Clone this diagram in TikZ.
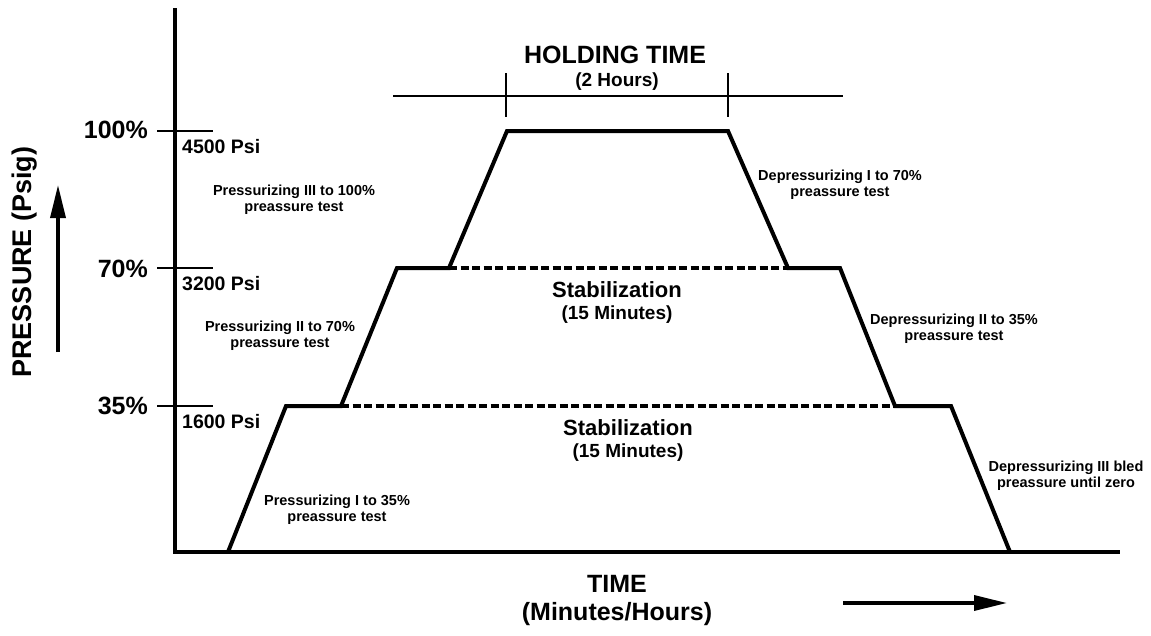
\documentclass[tikz,border=0pt]{standalone}
\usepackage{fontspec}
\setmainfont{Liberation Sans}
\usetikzlibrary{arrows.meta, positioning}

\begin{document}
\begin{tikzpicture}[x=1pt, y=-1pt,
        axis/.style={line width=4pt, black},
        level/.style={line width=4pt, black, line join=miter},
        hold/.style={line width=4pt, dash pattern=on 8pt off 3.5pt},
        tick/.style={line width=2.2pt},
        arrow/.style={-{Triangle[length=33pt, width=15pt]}, line width=3.5pt},
        pct/.style={font=\fontsize{25}{28}\selectfont\bfseries, inner sep=0pt, anchor=east},
        psi/.style={font=\fontsize{19.5}{21}\selectfont\bfseries, inner sep=0pt, anchor=west},
        note/.style={font=\fontsize{14.5}{16}\selectfont\bfseries, align=center, inner sep=0pt},
        title/.style={font=\fontsize{25}{28}\selectfont\bfseries, inner sep=0pt},
        sub/.style={font=\fontsize{19}{22}\selectfont\bfseries, inner sep=0pt},
        stab/.style={font=\fontsize{22}{24}\selectfont\bfseries, inner sep=0pt}
    ]
    \useasboundingbox (0,0) rectangle (1151,635);

    % axes
    \coordinate (o) at (175,552);
    \coordinate (ytop) at (175,8);
    \coordinate (xend) at (1120,552);
    \draw [axis] (ytop) -- (o) -- (xend);

    % pressure levels on the y axis
    \coordinate (t100a) at (157,131);  \coordinate (t100b) at (213,131);
    \coordinate (t70a) at (157,268);   \coordinate (t70b) at (213,268);
    \coordinate (t35a) at (157,406);   \coordinate (t35b) at (213,406);
    \draw [tick] (t100a) -- (t100b);
    \draw [tick] (t70a) -- (t70b);
    \draw [tick] (t35a) -- (t35b);
    \node (l100) [pct] at (148,130) {100\%};
    \node (l70) [pct] at (148,269) {70\%};
    \node (l35) [pct] at (148,406) {35\%};
    \node (p4500) [psi] at (182,147) {4500 Psi};
    \node (p3200) [psi] at (182,284) {3200 Psi};
    \node (p1600) [psi] at (182,422) {1600 Psi};

    % test profile
    \coordinate (p0) at (228,552);
    \coordinate (p1) at (286,406);
    \coordinate (p2) at (341,406);
    \coordinate (p3) at (397,268);
    \coordinate (p4) at (449,268);
    \coordinate (p5) at (507,131);
    \coordinate (p6) at (728,131);
    \coordinate (p7) at (788,268);
    \coordinate (p8) at (840,268);
    \coordinate (p9) at (895,406);
    \coordinate (p10) at (951,406);
    \coordinate (p11) at (1010,552);
    \draw [level] (p0) -- (p1) -- (p2) -- (p3) -- (p4) -- (p5) -- (p6) -- (p7) -- (p8) -- (p9) -- (p10) -- (p11);
    \draw [hold] (p4) -- (p7);
    \draw [hold] (p2) -- (p9);

    % holding time bracket
    \coordinate (h0) at (393,96);
    \coordinate (h1) at (843,96);
    \coordinate (hl1) at (506,73);  \coordinate (hl2) at (506,117);
    \coordinate (hr1) at (728,73);  \coordinate (hr2) at (728,117);
    \draw [line width=2.8pt] (h0) -- (h1);
    \draw [tick] (hl1) -- (hl2);
    \draw [tick] (hr1) -- (hr2);
    \node (holdt) [title] at (615,55) {HOLDING TIME};
    \node (holds) [sub] at (617,82) {(2 Hours)};

    % stabilization labels
    \node (stab70) [stab] at (617,290) {Stabilization};
    \node (stab70t) [sub, below=7pt of stab70] {(15 Minutes)};
    \node (stab35) [stab] at (628,428) {Stabilization};
    \node (stab35t) [sub, below=7pt of stab35] {(15 Minutes)};

    % step notes
    \node (up3) [note] at (294,200) {Pressurizing III to 100\%\\preassure test};
    \node (up2) [note] at (280,336) {Pressurizing II to 70\%\\preassure test};
    \node (up1) [note] at (337,510) {Pressurizing I to 35\%\\preassure test};
    \node (dn1) [note] at (840,185) {Depressurizing I to 70\%\\preassure test};
    \node (dn2) [note] at (954,329) {Depressurizing II to 35\%\\preassure test};
    \node (dn3) [note] at (1066,476) {Depressurizing III bled\\preassure until zero};

    % axis titles
    \node (ylab) [title, font=\fontsize{27}{30}\selectfont\bfseries, rotate=90] at (25,262) {PRESSURE (Psig)};
    \node (xlab) [title] at (617,584) {TIME};
    \node (xlabs) [title] at (617,614) {(Minutes/Hours)};
    \coordinate (ya) at (58,352);
    \coordinate (yb) at (58,185);
    \coordinate (xa) at (843,603);
    \coordinate (xb) at (1007,603);
    \draw [arrow] (ya) -- (yb);
    \draw [arrow] (xa) -- (xb);
\end{tikzpicture}
\end{document}
